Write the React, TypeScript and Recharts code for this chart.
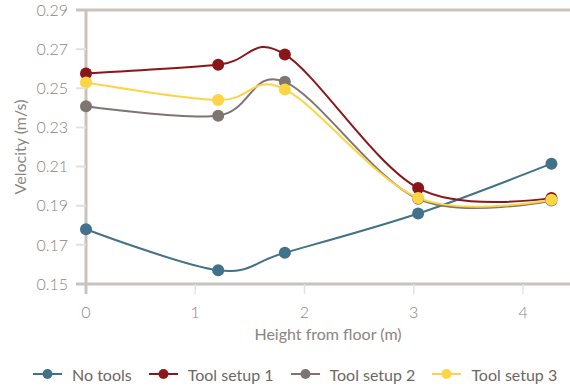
import React from 'react';
import { LineChart, Line, XAxis, YAxis, ReferenceLine, Legend } from 'recharts';

const heights = [0, 1.21, 1.82, 3.04, 4.26];
const noTools = [0.178, 0.157, 0.166, 0.186, 0.2115];
const toolSetup1 = [0.2576, 0.262, 0.2673, 0.199, 0.194];
const toolSetup2 = [0.2408, 0.236, 0.2533, 0.1935, 0.1927];
const toolSetup3 = [0.253, 0.244, 0.2494, 0.194, 0.193];
const yTicks = [0.15, 0.17, 0.19, 0.21, 0.23, 0.25, 0.27, 0.29];
const xTicks = [0, 1, 2, 3, 4];

const seriesNames = ['No tools', 'Tool setup 1', 'Tool setup 2', 'Tool setup 3'];
const seriesKeys = ['noTools', 'toolSetup1', 'toolSetup2', 'toolSetup3'];
const colors = ['#42718a', '#8a1619', '#7d7572', '#fdd444'];

const data = heights.map((h, i) => ({
  h,
  noTools: noTools[i],
  toolSetup1: toolSetup1[i],
  toolSetup2: toolSetup2[i],
  toolSetup3: toolSetup3[i],
}));

const AXIS = '#cac2bc';
const TICK = '#e6e1dd';
const TEXT = '#8b8480';
const FONT = 'Lato, "Open Sans", sans-serif';
const TS = 10;
const YM = 8;
const XM = 13;

// Uniform cardinal spline (tension 0), end control points at the end points
const cardinalCurve = (context: any) => {
  let pts: number[][] = [];
  return {
    areaStart() {},
    areaEnd() {},
    lineStart() {
      pts = [];
    },
    point(x: number, y: number) {
      pts.push([+x, +y]);
    },
    lineEnd() {
      const n = pts.length;
      if (!n) return;
      context.moveTo(pts[0][0], pts[0][1]);
      if (n === 2) {
        context.lineTo(pts[1][0], pts[1][1]);
        return;
      }
      for (let i = 0; i < n - 1; i++) {
        const p0 = pts[i];
        const p1 = pts[i + 1];
        const c1 = i === 0 ? p0 : [p0[0] + (p1[0] - pts[i - 1][0]) / 6, p0[1] + (p1[1] - pts[i - 1][1]) / 6];
        const c2 = i + 1 === n - 1 ? p1 : [p1[0] - (pts[i + 2][0] - p0[0]) / 6, p1[1] - (pts[i + 2][1] - p0[1]) / 6];
        context.bezierCurveTo(c1[0], c1[1], c2[0], c2[1], p1[0], p1[1]);
      }
    },
  };
};

const YTick = (props: any) => {
  const { x, y, payload } = props;
  const v = payload.value;
  const dark = Math.abs(v - 0.15) < 1e-6 || Math.abs(v - 0.29) < 1e-6;
  return (
    <g>
      <line x1={x + YM} x2={x + YM + TS} y1={y} y2={y} stroke={dark ? AXIS : TICK} strokeWidth={dark ? 3 : 2} />
      <text x={x} y={y} dy="0.355em" textAnchor="end" fill={TEXT} fontSize={16} fontFamily={FONT} fontWeight={300}>
        {v.toFixed(2)}
      </text>
    </g>
  );
};

const XTick = (props: any) => {
  const { x, y, payload } = props;
  const v = payload.value;
  const dark = v === 0;
  return (
    <g>
      <line x1={x} x2={x} y1={y - XM - TS} y2={y - XM} stroke={dark ? AXIS : TICK} strokeWidth={dark ? 3 : 1.5} />
      <text x={x} y={y} dy="0.71em" textAnchor="middle" fill={TEXT} fontSize={16} fontFamily={FONT} fontWeight={300}>
        {v}
      </text>
    </g>
  );
};

const LegendContent = () => (
  <div
    style={{
      display: 'flex',
      alignItems: 'center',
      height: 24,
      paddingLeft: 33,
      fontFamily: FONT,
      fontSize: 16,
      color: '#6e6763',
      whiteSpace: 'nowrap',
    }}
  >
    {seriesNames.map((n, i) => (
      <div key={n} style={{ display: 'flex', alignItems: 'center', marginRight: 17, flexShrink: 0 }}>
        <svg width={29} height={12} style={{ marginRight: 10, flexShrink: 0 }}>
          <line x1={0} x2={29} y1={6} y2={6} stroke={colors[i]} strokeWidth={2} />
          <circle cx={14.5} cy={6} r={5} fill={colors[i]} />
        </svg>
        <span>{n}</span>
      </div>
    ))}
  </div>
);

export default function App() {
  return (
    <div style={{ position: 'absolute', left: 0, top: 0 }}>
      <LineChart width={570} height={388} data={data} margin={{ top: 10, right: 0, left: 0, bottom: 14 }}>
        <XAxis
          dataKey="h"
          type="number"
          domain={[0, 4.43]}
          ticks={xTicks}
          tick={<XTick />}
          tickLine={false}
          tickSize={TS}
          tickMargin={XM}
          axisLine={{ stroke: AXIS, strokeWidth: 3 }}
          height={60}
          label={{ value: 'Height from floor (m)', position: 'insideBottom', offset: 4, fill: TEXT, fontSize: 16, fontFamily: FONT }}
        />
        <YAxis
          type="number"
          domain={[0.15, 0.29]}
          ticks={yTicks}
          tick={<YTick />}
          tickLine={false}
          tickSize={TS}
          tickMargin={YM}
          axisLine={{ stroke: AXIS, strokeWidth: 3 }}
          width={86}
          interval={0}
          label={{ value: 'Velocity (m/s)', angle: -90, position: 'insideLeft', offset: 20, fill: TEXT, fontSize: 16, fontFamily: FONT, style: { textAnchor: 'middle' } }}
        />
        <ReferenceLine y={0.29} stroke={AXIS} strokeWidth={3} />
        {seriesKeys.map((k, i) => (
          <Line
            key={k}
            dataKey={k}
            name={seriesNames[i]}
            type={cardinalCurve as any}
            stroke={colors[i]}
            strokeWidth={2}
            dot={{ r: 6, fill: colors[i], stroke: colors[i], strokeWidth: 0 }}
            activeDot={false}
            isAnimationActive={false}
          />
        ))}
        <Legend verticalAlign="bottom" height={30} wrapperStyle={{ left: 0, top: 362, width: 570 }} content={<LegendContent />} />
      </LineChart>
    </div>
  );
}
